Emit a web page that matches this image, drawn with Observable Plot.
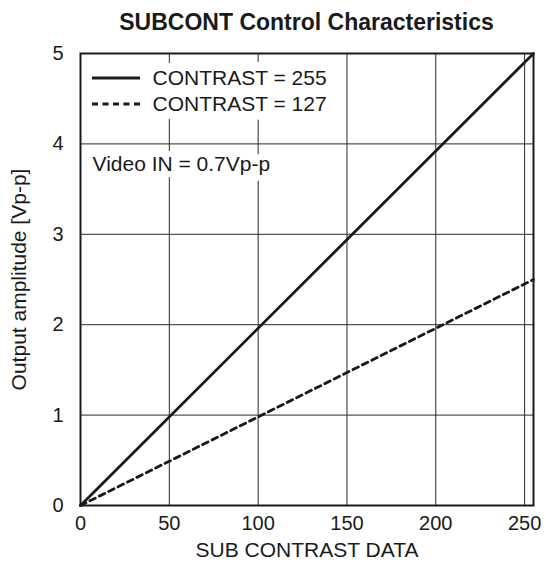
<!DOCTYPE html>
<html>
<head>
<meta charset="utf-8">
<script src="https://cdn.jsdelivr.net/npm/d3@7"></script>
<script src="https://cdn.jsdelivr.net/npm/@observablehq/plot@0.6"></script>
<style>
  html, body { margin: 0; padding: 0; background: #fff; }
  #title {
    box-sizing: border-box; width: 546px; height: 40px; padding: 9px 13px 0 80px;
    text-align: center; font: bold 23px "Liberation Sans", Arial, sans-serif; color: #1a1a1a;
    line-height: normal; white-space: nowrap;
  }
</style>
</head>
<body>
<div id="title">SUBCONT Control Characteristics</div>
<div id="chart"></div>
<script>
const subContrast = [0, 255];
const contrast255 = [0, 5];
const contrast127 = [0, 2.5];
const xTicks = [0, 50, 100, 150, 200, 250];
const yTicks = [0, 1, 2, 3, 4, 5];
const xGrid = [50, 100, 150, 200, 250];
const yGrid = [1, 2, 3, 4];
const legendLabels = ["CONTRAST = 255", "CONTRAST = 127"];
const noteText = ["Video IN = 0.7Vp-p"];
const xLabel = ["SUB CONTRAST DATA"];
const yLabel = ["Output amplitude [Vp-p]"];

const solid = subContrast.map((x, i) => ({x, y: contrast255[i]}));
const dashed = subContrast.map((x, i) => ({x, y: contrast127[i]}));

const FONT = "Liberation Sans, Arial, sans-serif";
const INK = "#1a1a1a";
const DASH = "6,4.5";
const LEGEND_DY = [25, 51];

function legendSamples(index, scales, values, dims) {
  const g = d3.create("svg:g");
  const x0 = dims.marginLeft + 12, x1 = dims.marginLeft + 60;
  LEGEND_DY.forEach((dy, i) => {
    const l = g.append("line")
      .attr("x1", x0).attr("x2", x1)
      .attr("y1", dims.marginTop + dy).attr("y2", dims.marginTop + dy)
      .attr("stroke", INK).attr("stroke-width", 2.8);
    if (i === 1) l.attr("stroke-dasharray", DASH);
  });
  return g.node();
}

const legendText = (i) => Plot.text([legendLabels[i]], {
  text: d => d, frameAnchor: "top-left", dx: 72, dy: LEGEND_DY[i],
  lineAnchor: "middle", textAnchor: "start",
  fontSize: 21, fill: INK, stroke: "white", strokeWidth: 18, paintOrder: "stroke"
});

const chart = Plot.plot({
  width: 546,
  height: 525,
  marginLeft: 80,
  marginRight: 13,
  marginTop: 13,
  marginBottom: 60,
  style: {fontFamily: FONT, color: INK, background: "#fff"},
  x: {domain: [0, 255]},
  y: {domain: [0, 5]},
  marks: [
    Plot.gridX(xGrid, {stroke: "#2a2a2a", strokeOpacity: 1, strokeWidth: 1}),
    Plot.gridY(yGrid, {stroke: "#2a2a2a", strokeOpacity: 1, strokeWidth: 1}),
    Plot.axisX(xTicks, {tickSize: 0, tickPadding: 10, fontSize: 20, fill: INK, label: null, tickFormat: d3.format("d")}),
    Plot.axisY(yTicks, {tickSize: 0, tickPadding: 17, fontSize: 20, fill: INK, label: null, tickFormat: d3.format("d")}),
    Plot.line(solid, {x: "x", y: "y", stroke: INK, strokeWidth: 2.8}),
    Plot.line(dashed, {x: "x", y: "y", stroke: INK, strokeWidth: 2.8, strokeDasharray: DASH}),
    Plot.frame({stroke: INK, strokeWidth: 2}),
    legendText(0),
    legendText(1),
    legendSamples,
    Plot.text(noteText, {
      text: d => d, frameAnchor: "top-left", dx: 12, dy: 111, lineAnchor: "middle", textAnchor: "start",
      fontSize: 21, fill: INK, stroke: "white", strokeWidth: 12, paintOrder: "stroke"
    }),
    Plot.text(xLabel, {
      text: d => d, frameAnchor: "bottom", dy: 44.5, lineAnchor: "middle", textAnchor: "middle",
      fontSize: 21, fill: INK
    }),
    Plot.text(yLabel, {
      text: d => d, frameAnchor: "left", dx: -61, rotate: -90, lineAnchor: "middle", textAnchor: "middle",
      fontSize: 21, fill: INK
    })
  ]
});
document.getElementById("chart").appendChild(chart);
</script>
</body>
</html>
